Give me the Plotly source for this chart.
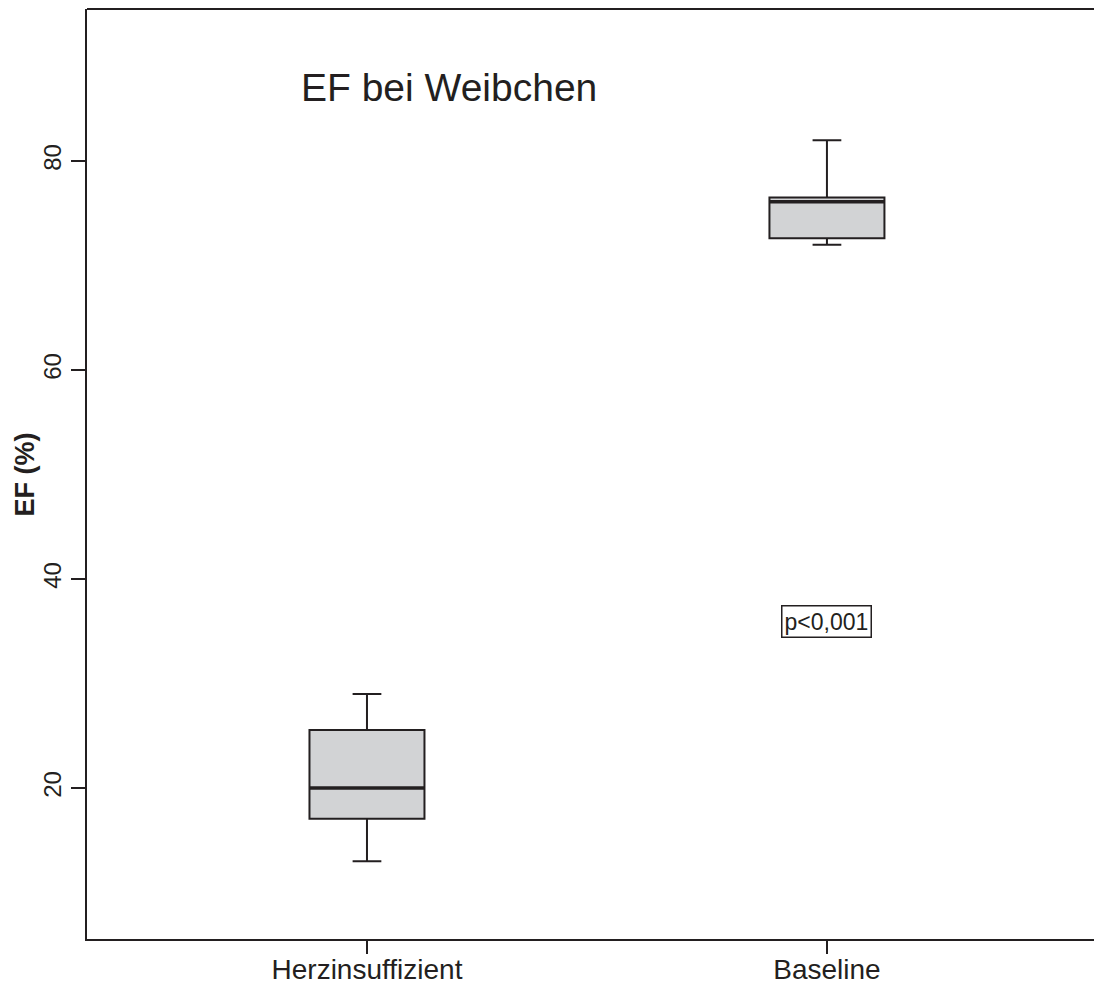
import plotly.graph_objects as go

categories = ["Herzinsuffizient", "Baseline"]
lower_whisker = [13.0, 72.0]
q1 = [17.05, 72.6]
median = [20.0, 76.1]
q3 = [25.55, 76.5]
upper_whisker = [29.0, 82.0]
y_ticks = [20, 40, 60, 80]

INK = "#231f20"
FILL = "#d2d3d5"
BOX_W = 0.25

fig = go.Figure()
fig.add_trace(go.Box(
    x=categories,
    q1=q1, median=median, q3=q3,
    lowerfence=lower_whisker, upperfence=upper_whisker,
    width=BOX_W, whiskerwidth=0.25,
    fillcolor=FILL,
    line=dict(color=INK, width=2),
    boxpoints=False, hoverinfo="skip", showlegend=False,
))
# thicker median lines
for i, c in enumerate(categories):
    fig.add_trace(go.Scatter(
        x=[i - BOX_W / 2, i + BOX_W / 2], y=[median[i], median[i]],
        xaxis="x2", mode="lines", line=dict(color=INK, width=3.5),
        hoverinfo="skip", showlegend=False,
    ))

x_range = [-0.6087, 1.598]
fig.update_layout(
    width=1094, height=975,
    margin=dict(l=79, r=0, t=1, b=44, autoexpand=False),
    plot_bgcolor="white", paper_bgcolor="white",
    font=dict(family="Liberation Sans, Arial, sans-serif", color=INK),
    xaxis=dict(
        type="category", range=x_range, showline=True, linecolor=INK, linewidth=2,
        ticks="outside", ticklen=13, tickwidth=2, tickcolor=INK,
        tickfont=dict(size=28, color=INK), showgrid=False, zeroline=False,
        mirror=False, automargin=False, ticklabelstandoff=-9,
    ),
    xaxis2=dict(range=x_range, overlaying="x", visible=False),
    yaxis=dict(
        range=[5.55, 94.55], showline=True, linecolor=INK, linewidth=2,
        ticks="outside", ticklen=14, tickwidth=2, tickcolor=INK,
        tickvals=y_ticks, ticktext=[str(v) for v in y_ticks],
        tickangle=-90, tickfont=dict(size=24, color=INK),
        showgrid=False, zeroline=False, automargin=False,
    ),
    shapes=[dict(type="line", xref="paper", yref="paper", x0=0, x1=1, y0=1, y1=1,
                 line=dict(color=INK, width=2))],
    annotations=[
        dict(text="<b>EF (%)</b>", x=-0.062, y=50.0, xref="paper", yref="y",
             xanchor="center", yanchor="middle", showarrow=False, textangle=-90,
             font=dict(size=27, color=INK)),
        dict(text="EF bei Weibchen", x=0.178, y=87.0, xref="x", yref="y",
             xanchor="center", yanchor="middle", showarrow=False,
             font=dict(size=39, color=INK)),
        dict(text="p<0,001", x=1, y=35.9, xref="x", yref="y",
             xanchor="center", yanchor="middle", showarrow=False,
             font=dict(size=23, color=INK), bordercolor=INK, borderwidth=1.5,
             borderpad=2, bgcolor="white"),
    ],
)
fig.write_html("out.html")
